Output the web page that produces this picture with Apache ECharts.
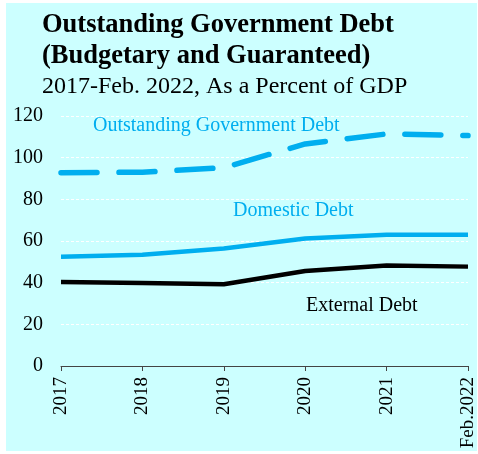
<!DOCTYPE html>
<html><head><meta charset="utf-8">
<script src="https://cdn.jsdelivr.net/npm/echarts@6/dist/echarts.min.js"></script>
<style>html,body{margin:0;padding:0;background:#fff}#c{width:478px;height:454px}</style>
</head><body><div id="c"></div>
<script>
const categories = ['2017','2018','2019','2020','2021','Feb.2022'];
const totalDebt = [92.8, 93.0, 95.2, 106.6, 111.4, 110.6];
const domesticDebt = [52.4, 53.4, 56.4, 61.2, 63.0, 63.0];
const externalDebt = [40.3, 39.8, 39.2, 45.6, 48.2, 47.7];
const yTicks = [0, 20, 40, 60, 80, 100, 120];

const BLUE = '#00AEEF';
const SERIF = '"Liberation Serif", "Times New Roman", serif';
const chart = echarts.init(document.getElementById('c'), null, {renderer: 'canvas'});
chart.setOption({
  backgroundColor: '#ffffff',
  animation: false,
  title: {
    text: 'Outstanding Government Debt\n(Budgetary and Guaranteed)',
    subtext: '2017-Feb. 2022, As a Percent of GDP',
    left: 42, top: 10, itemGap: 3, padding: 0,
    textStyle: {fontFamily: SERIF, fontWeight: 'bold', fontSize: 26.5, lineHeight: 31, color: '#000'},
    subtextStyle: {fontFamily: SERIF, fontSize: 24, lineHeight: 24, color: '#000'}
  },
  grid: {left: 61, right: 10, top: 116, bottom: 88, containLabel: false},
  xAxis: {
    type: 'category', data: categories, boundaryGap: false,
    axisLine: {lineStyle: {color: '#444', width: 1}},
    axisTick: {show: true, length: 5, lineStyle: {color: '#444'}},
    axisLabel: {rotate: 90, fontFamily: SERIF, fontSize: 19, color: '#000', margin: 11, interval: 0}
  },
  yAxis: {
    type: 'value', min: yTicks[0], max: yTicks[yTicks.length-1], interval: 20,
    axisLine: {show: false}, axisTick: {show: false},
    axisLabel: {fontFamily: SERIF, fontSize: 20, color: '#000', margin: 18},
    splitLine: {lineStyle: {color: '#ffffff', type: [3, 2], width: 1}}
  },
  graphic: [
    {type: 'rect', z: -10, silent: true, shape: {x: 6, y: 3, width: 471, height: 448}, style: {fill: '#CCFFFF'}},
    {type: 'text', left: 93, top: 116, style: {text: 'Outstanding Government Debt', fill: BLUE, font: '20px ' + SERIF}},
    {type: 'text', left: 233, top: 201, style: {text: 'Domestic Debt', fill: BLUE, font: '20px ' + SERIF}},
    {type: 'text', left: 306, top: 296, style: {text: 'External Debt', fill: '#000', font: '20px ' + SERIF}}
  ],
  series: [
    {name: 'Outstanding Government Debt', type: 'line', data: totalDebt, symbol: 'none',
     lineStyle: {color: BLUE, width: 5.5, type: [36, 22], cap: 'round'}, z: 3},
    {name: 'Domestic Debt', type: 'line', data: domesticDebt, symbol: 'none',
     lineStyle: {color: BLUE, width: 4.5}, z: 3},
    {name: 'External Debt', type: 'line', data: externalDebt, symbol: 'none',
     lineStyle: {color: '#000', width: 4.5}, z: 3}
  ]
});
</script></body></html>
